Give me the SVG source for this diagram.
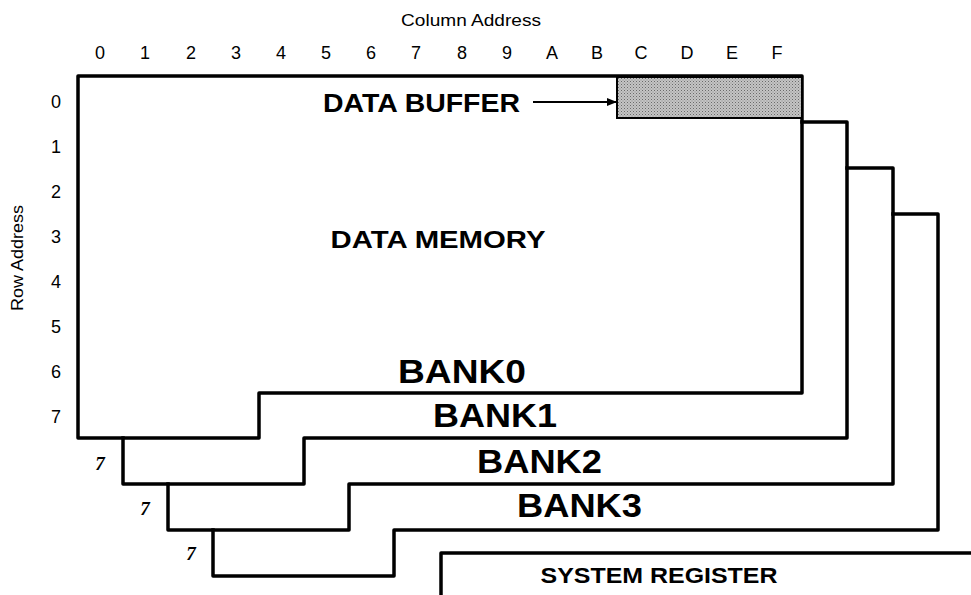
<svg xmlns="http://www.w3.org/2000/svg" width="971" height="595" viewBox="0 0 971 595">
<style>
text{font-family:"Liberation Sans",Arial,sans-serif;fill:#000}
.ax{font-size:18px;text-anchor:middle}
.lab{font-size:17px;text-anchor:middle}
.b{font-weight:bold}
.bank{font-size:33px;font-weight:bold}
.sev{font-size:19px;font-style:italic;text-anchor:middle;font-family:"Liberation Serif",serif;font-weight:bold}
.ol{fill:none;stroke:#000;stroke-width:3.5;stroke-linejoin:round;stroke-linecap:square}
</style>
<defs>
<pattern id="dots" width="3" height="3" patternUnits="userSpaceOnUse">
<rect width="3" height="3" fill="#c4c4c4"/>
<rect width="1" height="1" fill="#6a6a6a"/>
<rect x="1.5" y="1.5" width="1" height="1" fill="#888"/>
</pattern>
<marker id="ah" markerWidth="10" markerHeight="8" refX="10" refY="4" orient="auto" markerUnits="userSpaceOnUse">
<path d="M0,0 L10,4 L0,8 Z" fill="#000"/>
</marker>
</defs>
<rect width="971" height="595" fill="#fff"/>

<g id="axes">
<text class="lab" x="471" y="26" textLength="140" lengthAdjust="spacingAndGlyphs">Column Address</text>
<text class="lab" transform="translate(23,258) rotate(-90)" textLength="106" lengthAdjust="spacingAndGlyphs">Row Address</text>
<g class="ax">
<text x="100" y="59">0</text><text x="145" y="59">1</text><text x="191" y="59">2</text><text x="236" y="59">3</text>
<text x="281" y="59">4</text><text x="326" y="59">5</text><text x="371" y="59">6</text><text x="416" y="59">7</text>
<text x="462" y="59">8</text><text x="507" y="59">9</text><text x="552" y="59">A</text><text x="597" y="59">B</text>
<text x="641" y="59">C</text><text x="687" y="59">D</text><text x="732" y="59">E</text><text x="777" y="59">F</text>
</g>
<g class="ax">
<text x="56" y="108">0</text><text x="56" y="153">1</text><text x="56" y="198">2</text><text x="56" y="243">3</text>
<text x="56" y="288">4</text><text x="56" y="333">5</text><text x="56" y="378">6</text><text x="56" y="423">7</text>
</g>
</g>

<g id="bank3">
<path class="ol" d="M893,214 H938 V530 H394 V576 H213 V530"/>
<text class="bank" x="517" y="517" textLength="125" lengthAdjust="spacingAndGlyphs">BANK3</text>
<text class="sev" x="191" y="560">7</text>
</g>
<g id="bank2">
<path class="ol" d="M847,168 H893 V484 H349 V530 H168 V484"/>
<text class="bank" x="477" y="473" textLength="125" lengthAdjust="spacingAndGlyphs">BANK2</text>
<text class="sev" x="145" y="515">7</text>
</g>
<g id="bank1">
<path class="ol" d="M802,122 H847 V438 H304 V484 H123 V438"/>
<text class="bank" x="433" y="427" textLength="124" lengthAdjust="spacingAndGlyphs">BANK1</text>
<text class="sev" x="100" y="470">7</text>
</g>
<g id="bank0">
<path class="ol" d="M78,76 H802 V393 H259 V438 H78 Z"/>
<text class="bank" x="398" y="383" textLength="128" lengthAdjust="spacingAndGlyphs">BANK0</text>
<text class="b" x="438" y="248" font-size="24" text-anchor="middle" textLength="215" lengthAdjust="spacingAndGlyphs">DATA MEMORY</text>
</g>
<g id="data-buffer">
<rect x="617" y="77" width="185" height="41" fill="url(#dots)" stroke="#000" stroke-width="2"/>
<text class="b" x="323" y="112" font-size="25" textLength="197" lengthAdjust="spacingAndGlyphs">DATA BUFFER</text>
</g>
<g id="system-register">
<path class="ol" d="M441,597 V553 H975"/>
<text class="b" x="659" y="583" font-size="22" text-anchor="middle" textLength="237" lengthAdjust="spacingAndGlyphs">SYSTEM REGISTER</text>
</g>
<g id="connectors">
<line x1="533" y1="102" x2="617" y2="102" stroke="#000" stroke-width="2" marker-end="url(#ah)"/>
</g>
</svg>
